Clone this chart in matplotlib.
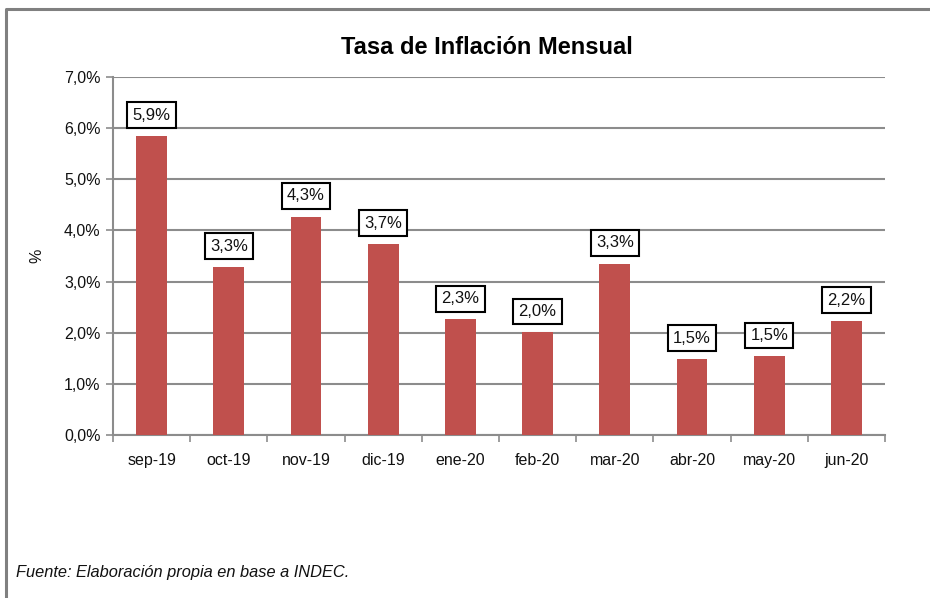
import matplotlib.pyplot as plt
from matplotlib.lines import Line2D
from matplotlib.ticker import FuncFormatter

plt.rcParams['font.family'] = ['Liberation Sans', 'DejaVu Sans']

months = ['sep-19', 'oct-19', 'nov-19', 'dic-19', 'ene-20',
          'feb-20', 'mar-20', 'abr-20', 'may-20', 'jun-20']
inflation = [5.85, 3.29, 4.27, 3.74, 2.26, 2.01, 3.35, 1.49, 1.54, 2.23]
labels = ['5,9%', '3,3%', '4,3%', '3,7%', '2,3%',
          '2,0%', '3,3%', '1,5%', '1,5%', '2,2%']

BAR_COLOR = '#C0504D'
GRID_COLOR = '#8C8C8C'

fig = plt.figure(figsize=(9.3, 5.98), dpi=100)
ax = fig.add_axes([113 / 930, 1 - 435 / 598, 772 / 930, 358 / 598])

x = range(len(months))
ax.bar(x, inflation, width=0.4, color=BAR_COLOR, zorder=3)

for i, (v, lab) in enumerate(zip(inflation, labels)):
    ax.annotate(lab, (i, v), xytext=(0, 9.5), textcoords='offset points',
                ha='center', va='bottom', fontsize=12, color='#111111',
                bbox=dict(boxstyle='square,pad=0.32', fc='white', ec='black', lw=1.5),
                zorder=4)

ax.set_xlim(-0.5, len(months) - 0.5)
ax.set_ylim(0, 7)
ax.set_yticks(range(0, 8))
ax.yaxis.set_major_formatter(FuncFormatter(lambda v, p: f'{v:.1f}%'.replace('.', ',')))
ax.set_xticks(list(x))
ax.set_xticklabels(months)
ax.set_xticks([i - 0.5 for i in range(len(months) + 1)], minor=True)
ax.tick_params(axis='x', which='major', length=0, pad=13, labelsize=11.5, labelcolor='#111111')
ax.tick_params(axis='x', which='minor', length=5, width=1.2, color=GRID_COLOR, direction='out')
ax.tick_params(axis='y', length=5, width=1.2, color=GRID_COLOR, labelsize=11.5,
               labelcolor='#111111', pad=4)

ax.grid(axis='y', color=GRID_COLOR, lw=1.5, zorder=0)
for side in ['top', 'right']:
    ax.spines[side].set_visible(False)
for side in ['left', 'bottom']:
    ax.spines[side].set_color(GRID_COLOR)
    ax.spines[side].set_linewidth(1.5)

ax.set_ylabel('%', fontsize=11.5, color='#111111', labelpad=14)

fig.text(487 / 930, 1 - 47 / 598, 'Tasa de Inflación Mensual', ha='center', va='center',
         fontsize=17, fontweight='bold', color='black')
fig.text(16 / 930, 1 - 573 / 598, 'Fuente: Elaboración propia en base a INDEC.',
         ha='left', va='center', fontsize=11.8, style='italic', color='#111111')

# outer frame: only the left and top edges show, the rest is cropped
fx, fy = 6 / 930, 1 - 9 / 598
fig.lines.append(Line2D([fx, fx, 1.05], [-0.05, fy, fy], transform=fig.transFigure,
                        color='#808080', lw=2.2))

fig.savefig('out.png', dpi=100)
